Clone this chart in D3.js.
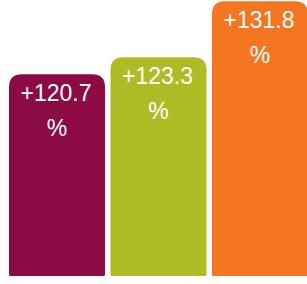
<!DOCTYPE html>
<html lang="en">
	<head>
		<meta charset="utf-8">
		<title>growth bars</title>
		<script type="text/javascript" src="https://cdn.jsdelivr.net/npm/d3@7"></script>
		<style type="text/css">
			body { margin: 0; background: #fff; }
			svg { display: block; }
		</style>
	</head>

	<body>
        <script type="text/javascript">

            // chart width and height
			var w = 307;
			var h = 284;

            // data
            var categories = ["a", "b", "c"];
            var values = [120.7, 123.3, 131.8];
            var labels = ["+120.7", "+123.3", "+131.8"];
            var colors = ["#8c0b45", "#afbb25", "#f47621"];

            var xScale = d3.scaleBand()
                .domain(categories)
                .range([9, 308])
                .paddingInner(0.054);

            var yScale = d3.scaleLinear()
                .domain([90, 132])
                .range([276, 0]);

            var svg = d3.select("body")
                .append("svg")
                .attr("width", w)
                .attr("height", h);

            // bar with rounded top corners
            function barPath(x, y, bw, bh, r) {
                var b = 1.5;
                return "M" + x + "," + (y + r) +
                    "Q" + x + "," + y + " " + (x + r) + "," + y +
                    "H" + (x + bw - r) +
                    "Q" + (x + bw) + "," + y + " " + (x + bw) + "," + (y + r) +
                    "V" + (y + bh - b) +
                    "Q" + (x + bw) + "," + (y + bh) + " " + (x + bw - b) + "," + (y + bh) +
                    "H" + (x + b) +
                    "Q" + x + "," + (y + bh) + " " + x + "," + (y + bh - b) +
                    "Z";
            }

            var data = categories.map(function(c, i) {
                return { cat: c, value: values[i], label: labels[i], color: colors[i] };
            });

            svg.selectAll("path.bar")
                .data(data)
                .enter()
                .append("path")
                .attr("class", "bar")
                .attr("d", function(d) {
                    var y = yScale(d.value);
                    return barPath(xScale(d.cat), y, xScale.bandwidth(), yScale(90) - y, 13);
                })
                .style("fill", function(d) { return d.color; });

            var txt = svg.selectAll("text.lbl")
                .data(data)
                .enter()
                .append("text")
                .attr("class", "lbl")
                .attr("text-anchor", "middle")
                .style("font-family", "'Liberation Sans', Arial, sans-serif")
                .style("font-size", "23px")
                .style("fill", "#fff");

            txt.append("tspan")
                .attr("x", function(d) { return xScale(d.cat) + xScale.bandwidth() / 2 - 1; })
                .attr("y", function(d) { return yScale(d.value) + 27; })
                .text(function(d) { return d.label; });

            txt.append("tspan")
                .attr("x", function(d) { return xScale(d.cat) + xScale.bandwidth() / 2; })
                .attr("y", function(d) { return yScale(d.value) + 62; })
                .text("%");

        </script>
	</body>
</html>
